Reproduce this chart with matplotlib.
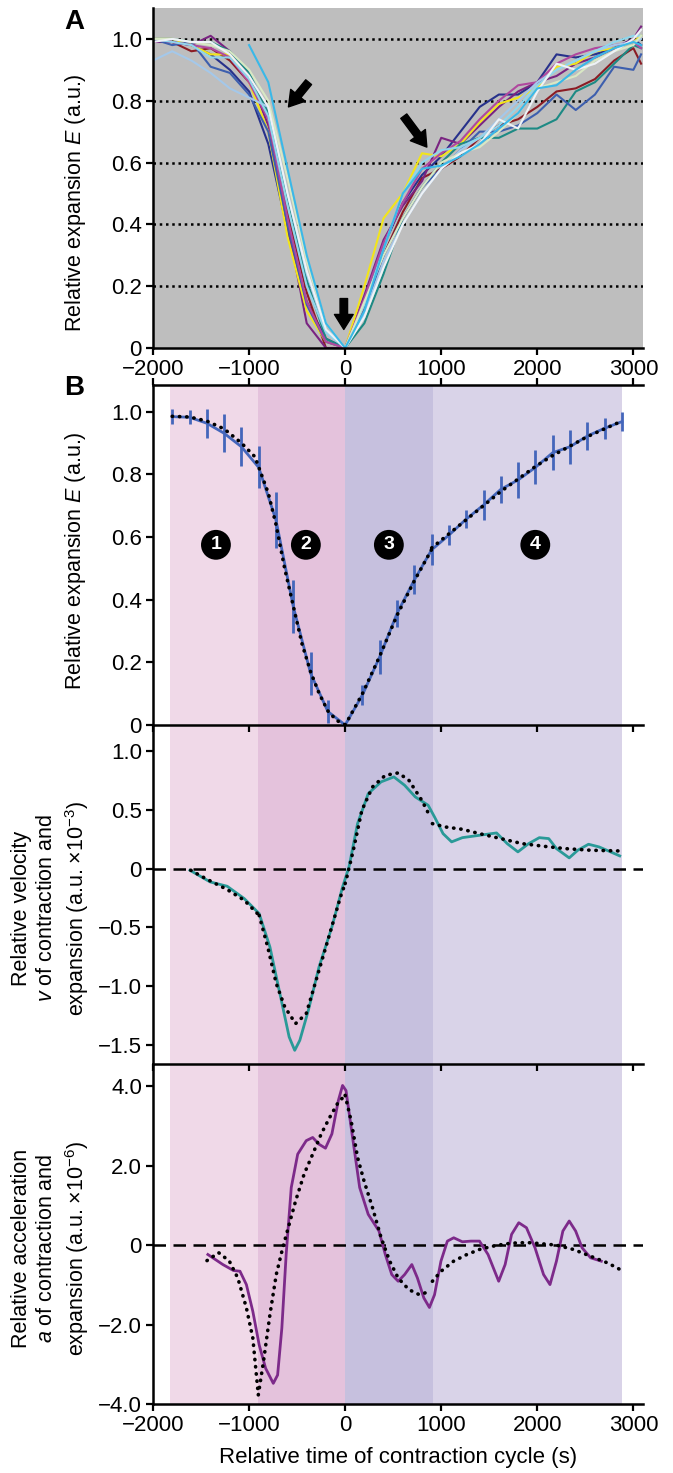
import numpy as np
import matplotlib.pyplot as plt
from matplotlib.ticker import FuncFormatter

plt.rcParams['font.family'] = ['Liberation Sans', 'DejaVu Sans']
plt.rcParams['mathtext.fontset'] = 'custom'
plt.rcParams['mathtext.rm'] = 'Liberation Sans'
plt.rcParams['mathtext.it'] = 'Liberation Sans:italic'
plt.rcParams['font.size'] = 15

nan = np.nan

# ---- panel A : individual contraction cycles ----
tA = [-2000, -1800, -1600, -1400, -1200, -1000, -800, -600, -400, -200, 0,
      200, 400, 600, 800, 1000, 1200, 1400, 1600, 1800, 2000, 2200, 2400,
      2600, 2800, 3000, 3080]

cycles = {
    '#27318b': [1.0, 0.99, 0.98, 0.95, 0.90, 0.83, 0.66, 0.38, 0.15, 0.03, 0, 0.16, 0.33, 0.47, 0.56, 0.62, 0.70, 0.78, 0.82, 0.82, 0.86, 0.95, 0.94, 0.95, 0.97, 1.00, 0.98],
    '#8b1c24': [1.0, 0.99, 0.96, 0.97, 0.93, 0.86, 0.76, 0.44, 0.18, 0.0, 0, 0.13, 0.30, 0.44, 0.55, 0.58, 0.62, 0.68, 0.72, 0.74, 0.78, 0.83, 0.84, 0.87, 0.93, 0.97, 0.92],
    '#7a2481': [0.99, 0.99, 0.98, 1.01, 0.96, 0.88, 0.72, 0.40, 0.08, 0.0, 0, 0.17, 0.35, 0.46, 0.54, 0.68, 0.66, 0.72, 0.78, 0.83, 0.86, 0.88, 0.92, 0.94, 0.97, 1.00, 1.04],
    '#f2e51a': [1.0, 1.0, 0.98, 0.95, 0.95, 0.86, 0.70, 0.36, 0.12, 0.02, 0, 0.20, 0.42, 0.50, 0.63, 0.62, 0.66, 0.73, 0.79, 0.81, 0.84, 0.91, 0.92, 0.96, 0.97, 0.99, 1.01],
    '#1d8a84': [1.0, 1.0, 0.99, 0.99, 0.96, 0.89, 0.76, 0.49, 0.22, 0.03, 0, 0.08, 0.24, 0.42, 0.52, 0.60, 0.66, 0.68, 0.68, 0.71, 0.71, 0.74, 0.83, 0.86, 0.92, 0.98, 0.97],
    '#3d5fae': [1.0, 0.98, 0.99, 0.91, 0.89, 0.82, 0.70, 0.40, 0.14, 0.02, 0, 0.12, 0.30, 0.42, 0.52, 0.58, 0.64, 0.70, 0.70, 0.72, 0.76, 0.82, 0.77, 0.82, 0.91, 0.90, 0.95],
    '#b0489e': [1.0, 0.99, 0.98, 0.97, 0.94, 0.86, 0.74, 0.42, 0.15, 0.02, 0, 0.16, 0.34, 0.47, 0.58, 0.63, 0.67, 0.74, 0.80, 0.85, 0.86, 0.92, 0.95, 0.97, 0.98, 0.99, 0.97],
    '#a4c8ea': [0.93, 0.96, 0.93, 0.89, 0.84, 0.81, 0.78, 0.50, 0.24, 0.06, 0, 0.11, 0.28, 0.40, 0.50, 0.58, 0.64, 0.68, 0.74, 0.80, 0.86, 0.90, 0.93, 0.96, 0.98, 0.99, 1.00],
    '#8fd6ec': [1.0, 0.99, 0.98, 0.94, 0.94, 0.87, 0.75, 0.46, 0.20, 0.05, 0, 0.14, 0.32, 0.50, 0.60, 0.64, 0.65, 0.68, 0.72, 0.78, 0.85, 0.90, 0.93, 0.96, 0.99, 1.01, 1.01],
    '#d8e8c4': [1.0, 1.0, 0.99, 0.98, 0.96, 0.90, 0.80, 0.55, 0.28, 0.08, 0, 0.15, 0.30, 0.42, 0.52, 0.60, 0.63, 0.65, 0.70, 0.76, 0.84, 0.86, 0.88, 0.93, 0.96, 0.98, 1.01],
    '#eef2f6': [0.99, 1.0, 0.99, 0.99, 0.95, 0.88, 0.78, 0.50, 0.25, 0.06, 0, 0.10, 0.26, 0.40, 0.50, 0.58, 0.63, 0.66, 0.74, 0.71, 0.83, 0.92, 0.90, 0.92, 0.96, 1.00, 1.03],
    '#3ab8e8': [nan, nan, nan, nan, nan, 0.98, 0.86, 0.58, 0.30, 0.08, 0, 0.12, 0.32, 0.50, 0.58, 0.59, 0.62, 0.66, 0.71, 0.76, 0.84, 0.85, 0.90, 0.94, 0.97, 0.99, 0.98],
}

# arrows in A: (tail_t, tail_E, head_t, head_E)
arrowsA = [(-380, 0.86, -590, 0.78), (610, 0.75, 850, 0.65), (-14, 0.16, -14, 0.06)]

# ---- panel B : mean expansion with error bars ----
tB = np.arange(-1800, 2881, 180)
EB = [0.984, 0.982, 0.963, 0.931, 0.888, 0.822, 0.654, 0.378, 0.165, 0.043, 0.0,
      0.096, 0.218, 0.356, 0.463, 0.559, 0.606, 0.657, 0.702, 0.752, 0.782,
      0.822, 0.869, 0.888, 0.922, 0.947, 0.968]
errB = [0.023, 0.023, 0.046, 0.060, 0.063, 0.067, 0.088, 0.084, 0.068, 0.036, 0.0,
        0.032, 0.054, 0.044, 0.046, 0.050, 0.033, 0.029, 0.048, 0.043, 0.057,
        0.054, 0.055, 0.054, 0.046, 0.034, 0.030]

# piecewise fits, one per phase
fitE = [
    ([-1800, -1620, -1440, -1260, -1080, -920], [0.985, 0.983, 0.97, 0.945, 0.90, 0.85]),
    ([-920, -800, -720, -630, -540, -450, -360, -270, -180, -90, 0],
     [0.84, 0.74, 0.64, 0.50, 0.38, 0.26, 0.17, 0.10, 0.045, 0.015, 0.0]),
    ([0, 180, 360, 540, 720, 900], [0.0, 0.10, 0.22, 0.35, 0.46, 0.56]),
    ([900, 1080, 1260, 1440, 1620, 1800, 1980, 2160, 2340, 2520, 2700, 2880],
     [0.565, 0.61, 0.655, 0.70, 0.745, 0.785, 0.825, 0.86, 0.89, 0.92, 0.945, 0.97]),
]

phase_edges = [-1820, -910, 0, 910, 2880]
phase_colors = ['#f0d9e8', '#e4c2dc', '#c6c0de', '#d9d3e8']
badges = [(-1345, 0.575, '1'), (-409, 0.575, '2'), (455, 0.575, '3'), (1979, 0.575, '4')]

# ---- velocity ----
tV = [-1616, -1406, -1228, -1050, -895, -783, -672, -583, -525, -472, -383, -272,
      -138, -27, 40, 129, 240, 374, 507, 619, 730, 864, 930, 1019, 1108, 1220,
      1398, 1576, 1687, 1798, 1909, 2021, 2119, 2199, 2332, 2421, 2533, 2644, 2858]
V = [-0.014, -0.113, -0.150, -0.255, -0.382, -0.666, -1.09, -1.43, -1.544, -1.459,
     -1.204, -0.836, -0.496, -0.156, 0.014, 0.382, 0.637, 0.737, 0.779, 0.708,
     0.609, 0.538, 0.439, 0.297, 0.227, 0.263, 0.283, 0.303, 0.212, 0.142, 0.212,
     0.263, 0.255, 0.170, 0.091, 0.156, 0.207, 0.184, 0.108]
fitV = [
    ([-1607, -1451, -1228, -1050, -895], [-0.014, -0.085, -0.178, -0.269, -0.397]),
    ([-895, -872, -806, -717, -628, -516, -405, -272, -160, -49, 0],
     [-0.397, -0.467, -0.666, -0.977, -1.176, -1.317, -1.232, -0.864, -0.552, -0.241, -0.127]),
    ([0, 18, 85, 174, 285, 418, 552, 663, 797, 886],
     [-0.127, -0.071, 0.156, 0.496, 0.694, 0.793, 0.813, 0.751, 0.581, 0.439]),
    ([908, 1041, 1220, 1398, 1620, 1843, 2065, 2288, 2555, 2858],
     [0.382, 0.354, 0.334, 0.297, 0.255, 0.212, 0.190, 0.170, 0.156, 0.150]),
]

# ---- acceleration ----
tAcc = [-1429, -1273, -1162, -1095, -1028, -961, -895, -828, -748, -703, -659, -614,
        -561, -494, -405, -338, -272, -205, -138, -71, -27, 9, 62, 151, 240, 352,
        418, 485, 552, 619, 694, 752, 819, 877, 930, 997, 1064, 1130, 1220, 1309,
        1398, 1487, 1598, 1665, 1732, 1807, 1887, 1976, 2065, 2132, 2199, 2266,
        2332, 2399, 2466, 2555, 2666]
Acc = [-0.236, -0.489, -0.640, -0.657, -0.994, -1.668, -2.51, -3.10, -3.48, -3.27,
       -2.09, -0.236, 1.449, 2.29, 2.63, 2.71, 2.54, 2.44, 2.80, 3.64, 4.02, 3.89,
       2.97, 1.45, 0.775, 0.354, -0.236, -0.741, -0.910, -0.741, -0.489, -0.826,
       -1.33, -1.57, -1.25, -0.404, 0.101, 0.185, 0.084, 0.101, 0.101, -0.236,
       -0.910, -0.489, 0.270, 0.564, 0.438, -0.067, -0.741, -0.994, -0.404, 0.354,
       0.607, 0.354, -0.067, -0.320, -0.404]
fitAcc = [
    ([-1438, -1317, -1206, -1117, -1028, -961, -904],
     [-0.39, -0.19, -0.40, -0.83, -1.58, -2.34, -3.77]),
    ([-904, -850, -783, -717, -650, -583, -516, -427, -338, -249, -160, -71, 0],
     [-3.77, -2.93, -1.75, -0.74, -0.07, 0.52, 1.11, 1.79, 2.29, 2.80, 3.22, 3.60, 3.77]),
    ([0, 62, 129, 196, 285, 374, 463, 552, 663, 774, 886],
     [3.77, 3.13, 2.21, 1.62, 0.94, 0.19, -0.40, -0.83, -1.12, -1.25, -1.16]),
    ([908, 997, 1131, 1264, 1398, 1531, 1665, 1798, 1932, 2065, 2199, 2377, 2555, 2733, 2866],
     [-0.91, -0.66, -0.40, -0.24, -0.11, -0.03, 0.03, 0.06, 0.06, 0.03, 0.0, -0.11, -0.28, -0.45, -0.62]),
]

W, H = 673, 1473
fig = plt.figure(figsize=(W / 100, H / 100), dpi=100)


def px_axes(x0, y0, x1, y1):
    return fig.add_axes([x0 / W, 1 - y1 / H, (x1 - x0) / W, (y1 - y0) / H])


def px_text(x, y, s, **kw):
    return fig.text(x / W, 1 - y / H, s, **kw)


def fmt(v, pos):
    if abs(v) < 1e-9:
        return '0'
    return ('%.1f' % v).replace('-', '\u2212')


def xfmt(v, pos):
    return ('%d' % v).replace('-', '\u2212')


def style(ax):
    for s in ['left', 'bottom', 'top', 'right']:
        ax.spines[s].set_linewidth(1.8)
    ax.tick_params(direction='out', length=5, width=1.6, labelsize=16, pad=3)
    ax.set_xlim(-2000, 3100)
    ax.set_xticks([-2000, -1000, 0, 1000, 2000, 3000])
    ax.yaxis.set_major_formatter(FuncFormatter(fmt))
    ax.xaxis.set_major_formatter(FuncFormatter(xfmt))


dotted = dict(color='black', lw=2.6, ls=(0, (0.1, 1.9)), dash_capstyle='round')

# panel A
axA = px_axes(153, 8, 643, 348)
style(axA)
axA.set_facecolor('#bebebe')
axA.spines['top'].set_visible(False)
axA.spines['right'].set_visible(False)
axA.set_ylim(0, 1.1)
axA.set_yticks([0, 0.2, 0.4, 0.6, 0.8, 1.0])
for yy in [0.2, 0.4, 0.6, 0.8, 1.0]:
    axA.axhline(yy, color='black', lw=1.8, ls=(0, (1, 1.5)), zorder=1)
for col, vals in cycles.items():
    axA.plot(tA, vals, color=col, lw=1.5, zorder=2)
for tx, ty, hx, hy in arrowsA:
    axA.annotate('', xy=(hx, hy), xytext=(tx, ty),
                 arrowprops=dict(arrowstyle='simple,head_width=0.75,head_length=0.6,tail_width=0.3',
                                 color='black', mutation_scale=18, shrinkA=0, shrinkB=0), zorder=5)

# panel B (three stacked axes)
axB1 = px_axes(153, 385, 643, 725)
axB2 = px_axes(153, 725, 643, 1064)
axB3 = px_axes(153, 1064, 643, 1404)
axB1.set_zorder(3)
axB2.set_zorder(2)
axB3.set_zorder(1)
for ax in [axB1, axB2, axB3]:
    style(ax)
    ax.spines['right'].set_visible(False)
    for i in range(4):
        ax.axvspan(phase_edges[i], phase_edges[i + 1], color=phase_colors[i], lw=0, zorder=0)
axB1.tick_params(top=True, labelbottom=False)
axB2.spines['top'].set_visible(False)
axB2.tick_params(labelbottom=False)
axB3.spines['top'].set_visible(False)

axB1.set_ylim(0, 1.085)
axB1.set_yticks([0, 0.2, 0.4, 0.6, 0.8, 1.0])
axB1.errorbar(tB, EB, yerr=errB, color='#4466bb', lw=2, elinewidth=2, capsize=0, zorder=3)
for xs, ys in fitE:
    axB1.plot(xs, ys, zorder=4, **dotted)
for bx, by, s in badges:
    axB1.text(bx, by, s, ha='center', va='center', color='white', fontsize=14,
              fontweight='bold', zorder=6,
              bbox=dict(boxstyle='circle,pad=0.33', fc='black', ec='none'))

axB2.set_ylim(-1.66, 1.22)
axB2.set_yticks([-1.5, -1.0, -0.5, 0, 0.5, 1.0])
axB2.axhline(0, color='black', lw=1.8, ls=(0, (5, 3)), zorder=2)
axB2.plot(tV, V, color='#2a9a98', lw=2, zorder=3)
for xs, ys in fitV:
    axB2.plot(xs, ys, zorder=4, **dotted)

axB3.set_ylim(-4.0, 4.56)
axB3.set_yticks([-4.0, -2.0, 0, 2.0, 4.0])
axB3.axhline(0, color='black', lw=1.8, ls=(0, (5, 3)), zorder=2)
axB3.plot(tAcc, Acc, color='#7d2a8a', lw=2, zorder=3)
for xs, ys in fitAcc:
    axB3.plot(xs, ys, zorder=4, **dotted)
axB3.set_xlabel('Relative time of contraction cycle (s)', fontsize=16, labelpad=8)

# axis titles
lab = dict(rotation=90, ha='center', va='center', multialignment='center', fontsize=15.5)
px_text(76, 203, 'Relative expansion $\\mathit{E}$ (a.u.)', **lab)
px_text(76, 561, 'Relative expansion $\\mathit{E}$ (a.u.)', **lab)
px_text(51, 908, 'Relative velocity\n$\\mathit{v}$ of contraction and\nexpansion (a.u. \u00d710$^{\u22123}$)',
        linespacing=1.3, **lab)
px_text(51, 1248, 'Relative acceleration\n$\\mathit{a}$ of contraction and\nexpansion (a.u. \u00d710$^{\u22126}$)',
        linespacing=1.3, **lab)

px_text(74, 22, 'A', fontsize=20, fontweight='bold', ha='center', va='center')
px_text(74, 388, 'B', fontsize=20, fontweight='bold', ha='center', va='center')

fig.savefig('out.png', dpi=100)
